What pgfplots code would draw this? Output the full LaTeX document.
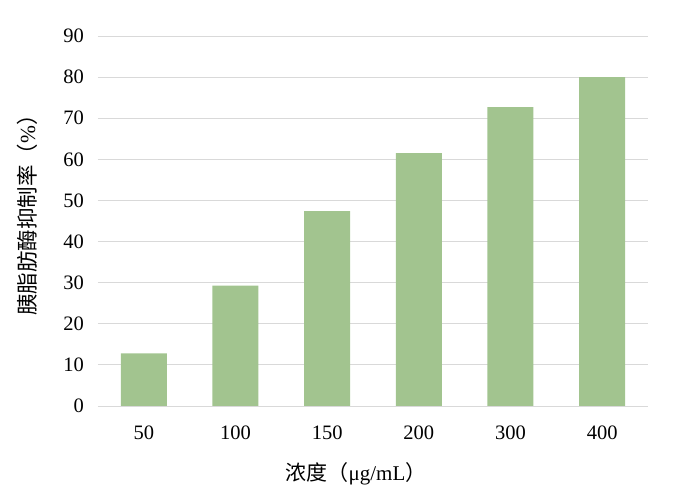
\documentclass[border=0pt]{standalone}
\usepackage{fontspec}
\setmainfont{Liberation Serif}
\newfontfamily\cjk{Noto Sans CJK SC}
\usepackage{pgfplots}
\pgfplotsset{compat=1.18}
\definecolor{barc}{HTML}{A2C48F}
\definecolor{gridc}{HTML}{D9D9D9}
\begin{document}
\begin{tikzpicture}[x=1pt,y=1pt]
\path[use as bounding box] (-98,-86) rectangle (591,406);
\begin{axis}[
  at={(0,0)}, anchor=south west,
  scale only axis, width=550pt, height=370pt,
  ymin=0, ymax=90, ytick={0,10,...,90},
  xmin=-0.5, xmax=5.5, xtick={0,...,5},
  xticklabels={50,100,150,200,300,400},
  axis line style={draw=none},
  major tick length=0pt,
  ymajorgrids, grid style={color=gridc, line width=0.9pt},
  /pgf/number format/assume math mode=true,
  font=\fontsize{20.5}{24}\selectfont,
  ticklabel style={font=\fontsize{20.5}{24}\selectfont},
  yticklabel style={anchor=east, inner sep=0pt, xshift=-14pt},
  xticklabel style={anchor=north, inner sep=0pt, yshift=-20pt},
  xlabel={{\cjk 浓度（}μg/mL{\cjk ）}},
  xlabel style={font=\fontsize{21}{25}\selectfont, at={(axis description cs:0.5,0)}, anchor=center, yshift=-68pt, xshift=-17pt, inner sep=0pt},
  ylabel={{\cjk 胰脂肪酶抑制率（}\%{\cjk ）}},
  ylabel style={font=\fontsize{21.5}{25}\selectfont, at={(axis description cs:0,0.5)}, anchor=center, xshift=11pt, yshift=71pt, inner sep=0pt},
  ybar, bar width=46pt,
]
\addplot[fill=barc, draw=none] coordinates {(0,12.8) (1,29.3) (2,47.4) (3,61.5) (4,72.7) (5,80.0)};
\end{axis}
\end{tikzpicture}
\end{document}
